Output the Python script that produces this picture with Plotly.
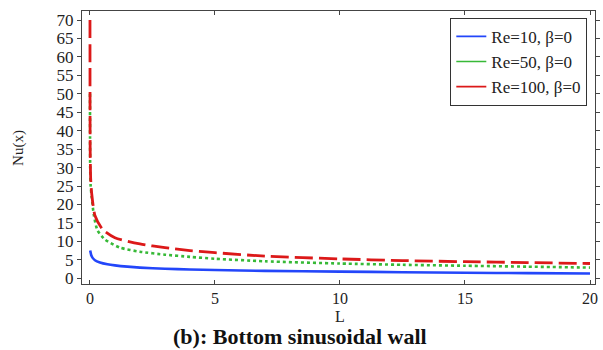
import plotly.graph_objects as go

# Local Nusselt number along the channel, bottom sinusoidal wall, beta = 0
L_re10 = [0.01, 0.05, 0.1, 0.2, 0.4, 0.7, 1.0, 1.5, 2.0, 3.0, 4.0, 5.0, 7.0, 10.0, 12.5, 15.0, 17.5, 20.0]
nu_re10 = [7.5, 6.3, 5.6, 4.9, 4.3, 3.8, 3.5, 3.15, 2.9, 2.6, 2.4, 2.25, 2.0, 1.8, 1.65, 1.5, 1.4, 1.3]

L_re50 = [0.002, 0.005, 0.01, 0.03, 0.07, 0.16, 0.3, 0.6, 1.2, 2.0, 3.0, 4.0, 5.0, 7.0, 10.0, 12.5, 15.0, 17.5, 20.0]
nu_re50 = [50.0, 38.0, 30.0, 25.0, 22.0, 17.0, 13.0, 10.5, 8.3, 7.2, 6.4, 5.8, 5.3, 4.6, 4.0, 3.65, 3.4, 3.15, 2.9]

L_re100 = [0.002, 0.005, 0.01, 0.03, 0.07, 0.2, 0.5, 1.0, 2.0, 3.0, 4.0, 5.0, 7.0, 10.0, 12.5, 15.0, 17.5, 20.0]
nu_re100 = [70.0, 45.0, 35.0, 27.0, 23.0, 17.0, 13.3, 11.0, 9.3, 8.3, 7.5, 6.95, 6.0, 5.25, 4.8, 4.5, 4.25, 4.0]

series = [
    ("Re=10, β=0", L_re10, nu_re10, "rgb(35,70,250)", "solid", 2.6),
    ("Re=50, β=0", L_re50, nu_re50, "rgb(55,185,55)", "dot", 2.6),
    ("Re=100, β=0", L_re100, nu_re100, "rgb(220,25,25)", "18px,6px", 2.8),
]

x_ticks = [0, 5, 10, 15, 20]
y_ticks = list(range(0, 75, 5))

FONT = "Liberation Serif, Times New Roman, serif"

fig = go.Figure()
for name, xs, ys, color, dash, width in series:
    fig.add_trace(go.Scatter(
        x=xs, y=ys, mode="lines", name=name, showlegend=False,
        line=dict(color=color, dash=dash, width=width, shape="spline", smoothing=0.6),
    ))
# thin solid legend keys
for name, xs, ys, color, dash, width in series:
    fig.add_trace(go.Scatter(
        x=[None], y=[None], mode="lines", name=name,
        line=dict(color=color, width=1.6),
    ))

axis_common = dict(
    showline=True, linecolor="#444", linewidth=1, mirror="ticks",
    showgrid=False, zeroline=False, ticklen=4, tickcolor="#444",
)

fig.update_xaxes(range=[-0.317, 20.2], tickvals=x_ticks, ticks="inside",
                 tickfont=dict(family=FONT, size=16, color="#222"), **axis_common)
fig.update_yaxes(range=[-1.55, 72.44], tickvals=y_ticks, ticks="outside",
                 tickfont=dict(family=FONT, size=17, color="#222"), **axis_common)

fig.update_layout(
    width=603, height=350,
    margin=dict(l=82, r=3, t=11, b=66),
    paper_bgcolor="white", plot_bgcolor="white",
    font=dict(family=FONT, color="#222"),
    legend=dict(
        x=0.985, y=0.975, xanchor="right", yanchor="top",
        bordercolor="#333", borderwidth=1, bgcolor="white",
        font=dict(family=FONT, size=17, color="#222"),
        itemwidth=30, tracegroupgap=0,
    ),
    annotations=[
        dict(text="Nu(x)", xref="paper", yref="paper", x=-0.124, y=0.5,
             xanchor="center", yanchor="middle",
             textangle=-90, showarrow=False, font=dict(family=FONT, size=15)),
        dict(text="L", xref="paper", yref="paper", x=0.502, y=-0.12,
             xanchor="center", yanchor="middle", showarrow=False,
             font=dict(family=FONT, size=16)),
        dict(text="<b>(b): Bottom sinusoidal wall</b>", xref="paper", yref="paper",
             x=0.425, y=-0.193, xanchor="center", yanchor="middle", showarrow=False,
             font=dict(family=FONT, size=22, color="#111")),
    ],
)

fig.write_html("out.html")
